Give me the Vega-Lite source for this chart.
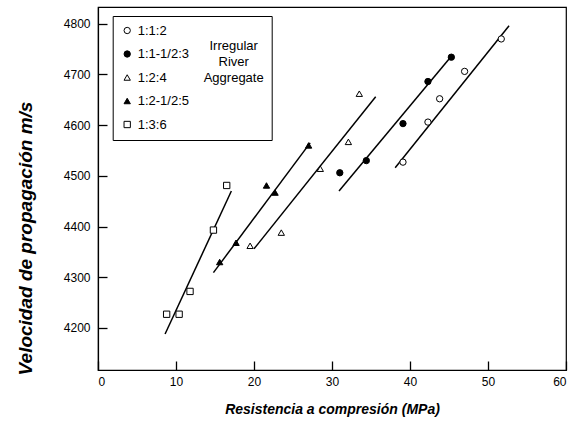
{
  "$schema": "https://vega.github.io/schema/vega-lite/v6.json",
  "width": 468,
  "height": 363,
  "autosize": "none",
  "padding": {"left": 98, "top": 7, "right": 10, "bottom": 57},
  "background": "white",
  "config": {
    "font": "Liberation Sans",
    "view": {"stroke": "black", "strokeWidth": 1.2},
    "axis": {
      "grid": false,
      "ticks": true,
      "domainColor": "black",
      "domainWidth": 1.2,
      "tickColor": "black",
      "tickWidth": 1.3,
      "labelColor": "black",
      "labelFontSize": 12,
      "titleColor": "black",
      "titleFontWeight": "bold",
      "titleFontStyle": "italic"
    },
    "legend": {
      "orient": "none",
      "legendX": 14.7,
      "legendY": 9,
      "titleOrient": "right",
      "titleAnchor": "start",
      "titleAlign": "center",
      "titleBaseline": "top",
      "titleFontWeight": "normal",
      "titleFontSize": 13,
      "titleColor": "black",
      "titleLineHeight": 16,
      "titlePadding": 45,
      "labelFontSize": 13,
      "labelColor": "black",
      "rowPadding": 9.5,
      "symbolStrokeWidth": 1,
      "strokeColor": "black",
      "fillColor": "white",
      "padding": 8
    }
  },
  "datasets": {
    "pts": [
      {"mix": "1:1:2", "mpa": 39.1, "vel": 4527},
      {"mix": "1:1:2", "mpa": 42.3, "vel": 4606},
      {"mix": "1:1:2", "mpa": 43.8, "vel": 4652},
      {"mix": "1:1:2", "mpa": 47.0, "vel": 4706},
      {"mix": "1:1:2", "mpa": 51.7, "vel": 4770},
      {"mix": "1:1-1/2:3", "mpa": 31.0, "vel": 4506},
      {"mix": "1:1-1/2:3", "mpa": 34.4, "vel": 4530},
      {"mix": "1:1-1/2:3", "mpa": 39.1, "vel": 4603},
      {"mix": "1:1-1/2:3", "mpa": 42.3, "vel": 4686},
      {"mix": "1:1-1/2:3", "mpa": 45.3, "vel": 4734},
      {"mix": "1:2:4", "mpa": 19.5, "vel": 4362},
      {"mix": "1:2:4", "mpa": 23.5, "vel": 4388},
      {"mix": "1:2:4", "mpa": 28.5, "vel": 4514},
      {"mix": "1:2:4", "mpa": 32.1, "vel": 4567},
      {"mix": "1:2:4", "mpa": 33.5, "vel": 4662},
      {"mix": "1:2-1/2:5", "mpa": 15.6, "vel": 4330},
      {"mix": "1:2-1/2:5", "mpa": 17.7, "vel": 4368},
      {"mix": "1:2-1/2:5", "mpa": 21.6, "vel": 4481},
      {"mix": "1:2-1/2:5", "mpa": 22.7, "vel": 4467},
      {"mix": "1:2-1/2:5", "mpa": 27.0, "vel": 4560},
      {"mix": "1:3:6", "mpa": 8.8, "vel": 4227},
      {"mix": "1:3:6", "mpa": 10.4, "vel": 4227},
      {"mix": "1:3:6", "mpa": 11.8, "vel": 4272},
      {"mix": "1:3:6", "mpa": 14.8, "vel": 4393},
      {"mix": "1:3:6", "mpa": 16.5, "vel": 4481}
    ],
    "fits": [
      {"mix": "1:1:2", "mpa": 38.1, "vel": 4516},
      {"mix": "1:1:2", "mpa": 52.7, "vel": 4796},
      {"mix": "1:1-1/2:3", "mpa": 30.9, "vel": 4470},
      {"mix": "1:1-1/2:3", "mpa": 45.3, "vel": 4736},
      {"mix": "1:2:4", "mpa": 20.0, "vel": 4356},
      {"mix": "1:2:4", "mpa": 35.6, "vel": 4656},
      {"mix": "1:2-1/2:5", "mpa": 14.8, "vel": 4309},
      {"mix": "1:2-1/2:5", "mpa": 27.2, "vel": 4565},
      {"mix": "1:3:6", "mpa": 8.6, "vel": 4188},
      {"mix": "1:3:6", "mpa": 17.1, "vel": 4470}
    ]
  },
  "layer": [
    {
      "data": {"name": "fits"},
      "mark": {"type": "line", "color": "black", "strokeWidth": 1.5},
      "encoding": {
        "x": {"field": "mpa", "type": "quantitative"},
        "y": {"field": "vel", "type": "quantitative"},
        "detail": {"field": "mix"}
      }
    },
    {
      "data": {"name": "pts"},
      "mark": {"type": "point", "filled": true, "strokeWidth": 1, "opacity": 1},
      "encoding": {
        "x": {
          "field": "mpa", "type": "quantitative",
          "scale": {"domain": [0, 60], "nice": false},
          "axis": {"values": [0, 10, 20, 30, 40, 50, 60], "format": "d", "tickSize": -9, "labelPadding": 15, "title": "Resistencia a compresión (MPa)", "titleFontSize": 14, "titlePadding": 15}
        },
        "y": {
          "field": "vel", "type": "quantitative",
          "scale": {"domain": [4117, 4833], "nice": false, "zero": false},
          "axis": {"values": [4200, 4300, 4400, 4500, 4600, 4700, 4800], "format": "d", "tickSize": -9, "labelPadding": 17, "title": "Velocidad de propagación  m/s", "titleFontSize": 19, "titleX": -73, "titleY": 231, "titleBaseline": "middle"}
        },
        "shape": {
          "field": "mix", "type": "nominal",
          "sort": ["1:1:2", "1:1-1/2:3", "1:2:4", "1:2-1/2:5", "1:3:6"],
          "scale": {"domain": ["1:1:2", "1:1-1/2:3", "1:2:4", "1:2-1/2:5", "1:3:6"], "range": ["circle", "circle", "triangle-up", "triangle-up", "square"]},
          "legend": {"title": ["", "Irregular", "River", "Aggregate"]}
        },
        "fill": {
          "field": "mix", "type": "nominal",
          "sort": ["1:1:2", "1:1-1/2:3", "1:2:4", "1:2-1/2:5", "1:3:6"],
          "scale": {"domain": ["1:1:2", "1:1-1/2:3", "1:2:4", "1:2-1/2:5", "1:3:6"], "range": ["white", "black", "white", "black", "white"]},
          "legend": {"title": ["", "Irregular", "River", "Aggregate"]}
        },
        "stroke": {
          "field": "mix", "type": "nominal",
          "sort": ["1:1:2", "1:1-1/2:3", "1:2:4", "1:2-1/2:5", "1:3:6"],
          "scale": {"domain": ["1:1:2", "1:1-1/2:3", "1:2:4", "1:2-1/2:5", "1:3:6"], "range": ["black", "black", "black", "black", "black"]},
          "legend": {"title": ["", "Irregular", "River", "Aggregate"]}
        },
        "size": {
          "field": "mix", "type": "nominal",
          "sort": ["1:1:2", "1:1-1/2:3", "1:2:4", "1:2-1/2:5", "1:3:6"],
          "scale": {"domain": ["1:1:2", "1:1-1/2:3", "1:2:4", "1:2-1/2:5", "1:3:6"], "range": [40, 40, 70, 70, 90]},
          "legend": {"title": ["", "Irregular", "River", "Aggregate"]}
        }
      }
    }
  ]
}
